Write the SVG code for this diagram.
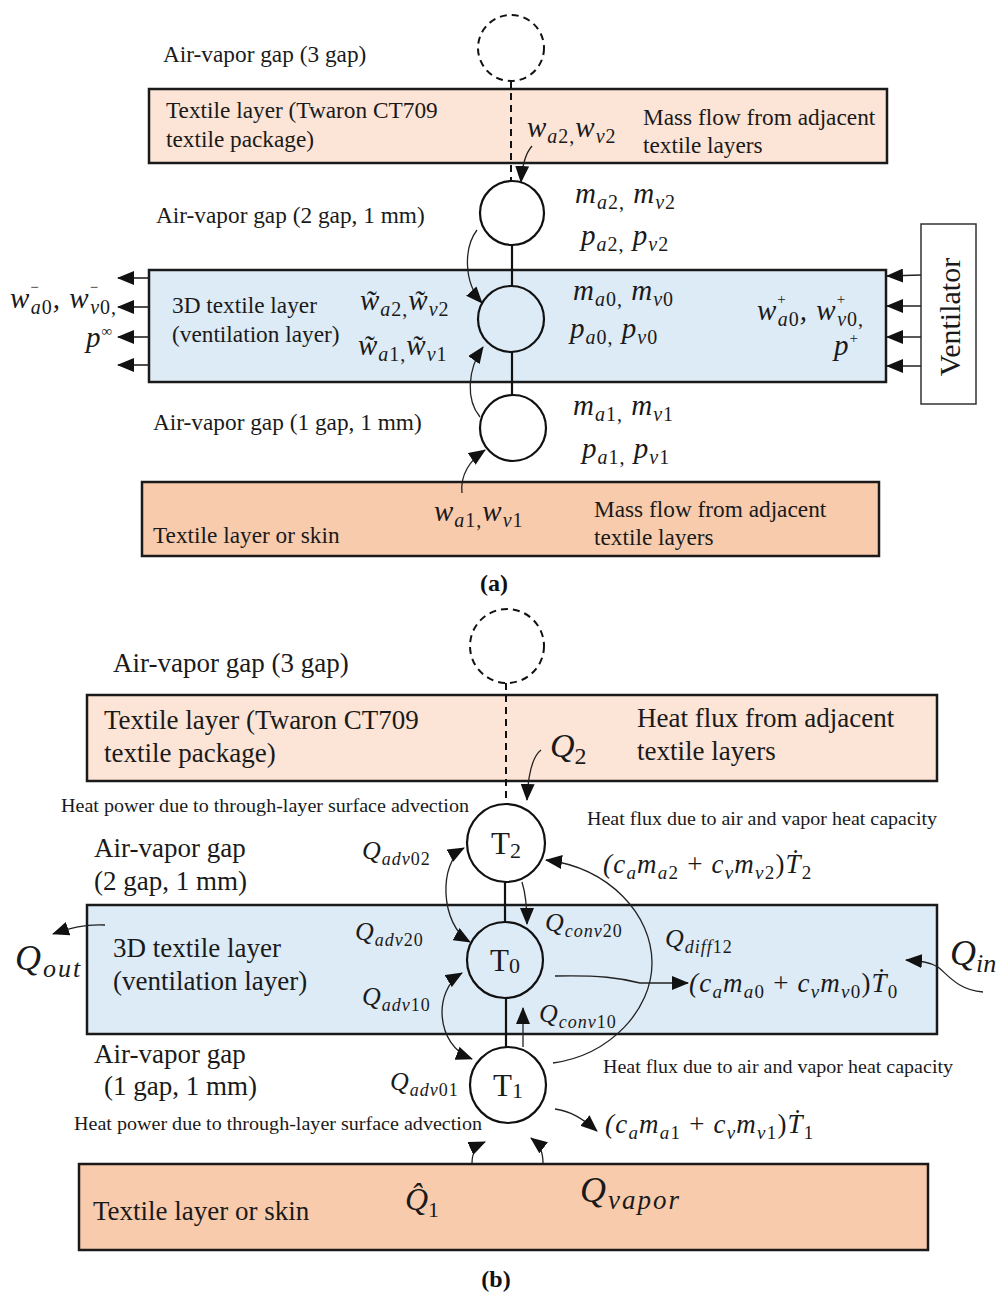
<svg xmlns="http://www.w3.org/2000/svg" width="1000" height="1296" viewBox="0 0 1000 1296">
<style>
.lt{fill:#fce4d6;stroke:#1a1a1a;stroke-width:2.5}
.dk{fill:#f8cbad;stroke:#1a1a1a;stroke-width:2.5}
.bl{fill:#ddebf7;stroke:#1a1a1a;stroke-width:2.5}
.nd{fill:none;stroke:#111;stroke-width:2.2}
.dash{fill:none;stroke:#111;stroke-width:2;stroke-dasharray:7 5}
.ln{fill:none;stroke:#111;stroke-width:2.2}
.ar{fill:none;stroke:#222;stroke-width:1.3;marker-end:url(#ah)}
.ar2{fill:none;stroke:#222;stroke-width:1.3;marker-start:url(#ah);marker-end:url(#ah)}
.st{fill:none;stroke:#222;stroke-width:1.6;marker-end:url(#ah)}
.t{font-family:"Liberation Serif",serif;fill:#1a1a1a}
.ta{font-size:23.3px}
.tb{font-size:27px}
.m{font-family:"Liberation Serif","DejaVu Serif",serif;font-style:italic;fill:#1a1a1a}
.ma{font-size:29px;letter-spacing:1px}
.mq{font-size:26px;letter-spacing:1px}
.mc{font-size:27px;letter-spacing:1.2px}
.u{font-style:normal}
.cap{font-family:"Liberation Serif",serif;font-weight:bold;font-size:24px;fill:#111;text-anchor:middle}
</style>
<defs>
<marker id="ah" markerUnits="userSpaceOnUse" markerWidth="18" markerHeight="14" refX="16" refY="7" orient="auto-start-reverse" viewBox="0 0 18 14"><path d="M0,0 L17,7 L0,14 z" fill="#111"/></marker>
</defs>
<rect width="1000" height="1296" fill="#fff"/>

<!-- ===== Part (a) ===== -->
<g id="a-gap3">
<circle class="dash" cx="511" cy="48" r="33"/>
<text class="t ta" x="163" y="62">Air-vapor gap (3 gap)</text>
</g>
<g id="a-textile-top">
<rect class="lt" x="149" y="89" width="738" height="74"/>
<text class="t ta" x="166" y="118">Textile layer (Twaron CT709</text>
<text class="t ta" x="166" y="147">textile package)</text>
<text class="t ta" x="643" y="125">Mass flow from adjacent</text>
<text class="t ta" x="643" y="153">textile layers</text>
<text class="m ma" x="527" y="137">w<tspan font-size="20" dy="6">a</tspan><tspan font-size="20" class="u">2,</tspan><tspan dy="-6">w</tspan><tspan font-size="20" dy="6">v</tspan><tspan font-size="20" class="u">2</tspan></text>
</g>
<g id="a-gap2">
<circle class="nd" cx="512" cy="213" r="32"/>
<text class="t ta" x="156" y="223">Air-vapor gap (2 gap, 1 mm)</text>
<text class="m ma" x="575" y="203">m<tspan font-size="20" dy="6">a</tspan><tspan font-size="20" class="u">2,</tspan><tspan dy="-6"> m</tspan><tspan font-size="20" dy="6">v</tspan><tspan font-size="20" class="u">2</tspan></text>
<text class="m ma" x="581" y="245">p<tspan font-size="20" dy="6">a</tspan><tspan font-size="20" class="u">2,</tspan><tspan dy="-6"> p</tspan><tspan font-size="20" dy="6">v</tspan><tspan font-size="20" class="u">2</tspan></text>
</g>
<g id="a-ventilation">
<rect class="bl" x="149" y="270" width="737" height="112"/>
<circle class="nd" cx="511" cy="319" r="33"/>
<text class="t ta" x="172" y="313">3D textile layer</text>
<text class="t ta" x="172" y="342">(ventilation layer)</text>
<text class="m ma" x="360" y="310">w&#x303;<tspan font-size="20" dy="6">a</tspan><tspan font-size="20" class="u">2,</tspan><tspan dy="-6">w&#x303;</tspan><tspan font-size="20" dy="6">v</tspan><tspan font-size="20" class="u">2</tspan></text>
<text class="m ma" x="358" y="355">w&#x303;<tspan font-size="20" dy="6">a</tspan><tspan font-size="20" class="u">1,</tspan><tspan dy="-6">w&#x303;</tspan><tspan font-size="20" dy="6">v</tspan><tspan font-size="20" class="u">1</tspan></text>
<text class="m ma" x="573" y="300">m<tspan font-size="20" dy="6">a</tspan><tspan font-size="20" class="u">0,</tspan><tspan dy="-6"> m</tspan><tspan font-size="20" dy="6">v</tspan><tspan font-size="20" class="u">0</tspan></text>
<text class="m ma" x="570" y="338">p<tspan font-size="20" dy="6">a</tspan><tspan font-size="20" class="u">0,</tspan><tspan dy="-6">  p</tspan><tspan font-size="20" dy="6">v</tspan><tspan font-size="20" class="u">0</tspan></text>
<text class="m ma" x="757" y="320">w<tspan font-size="15" class="u" dy="-16">+</tspan><tspan font-size="20" dx="-9" dy="22">a</tspan><tspan font-size="20" class="u">0</tspan><tspan dy="-6">, w</tspan><tspan font-size="15" class="u" dy="-16">+</tspan><tspan font-size="20" dx="-9" dy="22">v</tspan><tspan font-size="20" class="u">0,</tspan></text>
<text class="m ma" x="834" y="355">p<tspan font-size="15" class="u" dy="-12">+</tspan></text>
</g>
<g id="a-outflow">
<text class="m ma" x="10" y="308">w<tspan font-size="15" class="u" dy="-16">−</tspan><tspan font-size="20" dx="-9" dy="22">a</tspan><tspan font-size="20" class="u">0</tspan><tspan dy="-6">, w</tspan><tspan font-size="15" class="u" dy="-16">−</tspan><tspan font-size="20" dx="-9" dy="22">v</tspan><tspan font-size="20" class="u">0,</tspan></text>
<text class="m ma" x="86" y="347">p<tspan font-size="15" class="u" dy="-11">∞</tspan></text>
</g>
<g id="a-ventilator">
<rect x="921" y="224" width="55" height="180" fill="#fff" stroke="#333" stroke-width="1.5"/>
<text class="t" font-size="30" text-anchor="middle" transform="translate(960,317) rotate(-90)">Ventilator</text>
</g>
<g id="a-gap1">
<circle class="nd" cx="513" cy="428" r="33"/>
<text class="t ta" x="153" y="430">Air-vapor gap (1 gap, 1 mm)</text>
<text class="m ma" x="573" y="415">m<tspan font-size="20" dy="6">a</tspan><tspan font-size="20" class="u">1,</tspan><tspan dy="-6"> m</tspan><tspan font-size="20" dy="6">v</tspan><tspan font-size="20" class="u">1</tspan></text>
<text class="m ma" x="582" y="458">p<tspan font-size="20" dy="6">a</tspan><tspan font-size="20" class="u">1,</tspan><tspan dy="-6"> p</tspan><tspan font-size="20" dy="6">v</tspan><tspan font-size="20" class="u">1</tspan></text>
</g>
<g id="a-textile-bottom">
<rect class="dk" x="142" y="482" width="737" height="74"/>
<text class="t ta" x="153" y="543">Textile layer or skin</text>
<text class="t ta" x="594" y="517">Mass flow from adjacent</text>
<text class="t ta" x="594" y="545">textile layers</text>
<text class="m ma" x="434" y="521">w<tspan font-size="20" dy="6">a</tspan><tspan font-size="20" class="u">1,</tspan><tspan dy="-6">w</tspan><tspan font-size="20" dy="6">v</tspan><tspan font-size="20" class="u">1</tspan></text>
</g>
<text class="cap" x="494" y="591">(a)</text>

<!-- ===== Part (b) ===== -->
<g id="b-gap3">
<circle class="dash" cx="507" cy="646" r="37"/>
<text class="t tb" x="113" y="672">Air-vapor gap (3 gap)</text>
</g>
<g id="b-textile-top">
<rect class="lt" x="87" y="695" width="850" height="86"/>
<text class="t tb" x="104" y="729">Textile layer (Twaron CT709</text>
<text class="t tb" x="104" y="762">textile package)</text>
<text class="t tb" x="637" y="727">Heat flux from adjacent</text>
<text class="t tb" x="637" y="760">textile layers</text>
<text class="m" x="550" y="757" font-size="34">Q<tspan font-size="24" class="u" dy="7">2</tspan></text>
</g>
<g id="b-T2">
<circle class="nd" cx="506" cy="843" r="39"/>
<text class="t" x="506" y="854" font-size="31" text-anchor="middle">T<tspan font-size="22" dy="4">2</tspan></text>
<text class="t" x="61" y="812" font-size="18" textLength="408" lengthAdjust="spacingAndGlyphs">Heat power due to through-layer surface advection</text>
<text class="t" x="587" y="825" font-size="18" textLength="350" lengthAdjust="spacingAndGlyphs">Heat flux due to air and vapor heat capacity</text>
<text class="t tb" x="94" y="857">Air-vapor gap</text>
<text class="t tb" x="94" y="890">(2 gap, 1 mm)</text>
<text class="m mq" x="362" y="859">Q<tspan font-size="18" dy="6">adv</tspan><tspan font-size="18" class="u">02</tspan></text>
<text class="m mc" x="603" y="873">(c<tspan font-size="19" dy="6">a</tspan><tspan dy="-6">m</tspan><tspan font-size="19" dy="6">a</tspan><tspan font-size="19" class="u">2</tspan><tspan class="u" dy="-6"> + </tspan>c<tspan font-size="19" dy="6">v</tspan><tspan dy="-6">m</tspan><tspan font-size="19" dy="6">v</tspan><tspan font-size="19" class="u">2</tspan><tspan class="u" dy="-6">)</tspan>T&#x307;<tspan font-size="19" class="u" dy="6">2</tspan></text>
</g>
<g id="b-ventilation">
<rect class="bl" x="87" y="905" width="850" height="129"/>
<circle class="nd" cx="505" cy="960" r="38"/>
<text class="t" x="505" y="971" font-size="31" text-anchor="middle">T<tspan font-size="22" dy="2">0</tspan></text>
<text class="t tb" x="113" y="957">3D textile layer</text>
<text class="t tb" x="113" y="990">(ventilation layer)</text>
<text class="m mq" x="355" y="940">Q<tspan font-size="18" dy="6">adv</tspan><tspan font-size="18" class="u">20</tspan></text>
<text class="m mq" x="362" y="1005">Q<tspan font-size="18" dy="6">adv</tspan><tspan font-size="18" class="u">10</tspan></text>
<text class="m mq" x="545" y="931">Q<tspan font-size="18" dy="6">conv</tspan><tspan font-size="18" class="u">20</tspan></text>
<text class="m mq" x="539" y="1022">Q<tspan font-size="18" dy="6">conv</tspan><tspan font-size="18" class="u">10</tspan></text>
<text class="m mq" x="665" y="947">Q<tspan font-size="18" dy="6">diff</tspan><tspan font-size="18" class="u">12</tspan></text>
<text class="m mc" x="689" y="992">(c<tspan font-size="19" dy="6">a</tspan><tspan dy="-6">m</tspan><tspan font-size="19" dy="6">a</tspan><tspan font-size="19" class="u">0</tspan><tspan class="u" dy="-6"> + </tspan>c<tspan font-size="19" dy="6">v</tspan><tspan dy="-6">m</tspan><tspan font-size="19" dy="6">v</tspan><tspan font-size="19" class="u">0</tspan><tspan class="u" dy="-6">)</tspan>T&#x307;<tspan font-size="19" class="u" dy="6">0</tspan></text>
</g>
<g id="b-Qout">
<text class="m" x="15" y="970" font-size="36" letter-spacing="2">Q<tspan font-size="26" dy="7">out</tspan></text>
</g>
<g id="b-Qin">
<text class="m" x="950" y="965" font-size="36">Q<tspan font-size="26" dy="7">in</tspan></text>
</g>
<g id="b-T1">
<circle class="nd" cx="508" cy="1085" r="38"/>
<text class="t" x="508" y="1096" font-size="31" text-anchor="middle">T<tspan font-size="22" dy="2">1</tspan></text>
<text class="t tb" x="94" y="1063">Air-vapor gap</text>
<text class="t tb" x="104" y="1095">(1 gap, 1 mm)</text>
<text class="m mq" x="390" y="1090">Q<tspan font-size="18" dy="6">adv</tspan><tspan font-size="18" class="u">01</tspan></text>
<text class="t" x="74" y="1130" font-size="18" textLength="408" lengthAdjust="spacingAndGlyphs">Heat power due to through-layer surface advection</text>
<text class="t" x="603" y="1073" font-size="18" textLength="350" lengthAdjust="spacingAndGlyphs">Heat flux due to air and vapor heat capacity</text>
<text class="m mc" x="605" y="1133">(c<tspan font-size="19" dy="6">a</tspan><tspan dy="-6">m</tspan><tspan font-size="19" dy="6">a</tspan><tspan font-size="19" class="u">1</tspan><tspan class="u" dy="-6"> + </tspan>c<tspan font-size="19" dy="6">v</tspan><tspan dy="-6">m</tspan><tspan font-size="19" dy="6">v</tspan><tspan font-size="19" class="u">1</tspan><tspan class="u" dy="-6">)</tspan>T&#x307;<tspan font-size="19" class="u" dy="6">1</tspan></text>
</g>
<g id="b-textile-bottom">
<rect class="dk" x="79" y="1164" width="849" height="86"/>
<text class="t tb" x="93" y="1220">Textile layer or skin</text>
<text class="m" x="405" y="1210" font-size="32">Q&#x302;<tspan font-size="22" class="u" dy="7">1</tspan></text>
<text class="m" x="580" y="1202" font-size="36" letter-spacing="2">Q<tspan font-size="27" dy="7">vapor</tspan></text>
</g>
<text class="cap" x="496" y="1287">(b)</text>

<!-- ===== Connectors ===== -->
<g id="connectors">
<!-- (a) -->
<line class="dash" x1="511" y1="81" x2="511" y2="181"/>
<line class="ln" x1="512" y1="245" x2="512" y2="286"/>
<line class="ln" x1="512" y1="352" x2="512" y2="395"/>
<path class="ar" d="M532,146 C524,155 522,168 521,182"/>
<path class="ar" d="M477,230 C464,247 463,282 482,303"/>
<path class="ar" d="M480,417 C466,400 467,370 483,347"/>
<path class="ar" d="M462,493 C460,475 470,460 485,450"/>
<line class="st" x1="149" y1="278" x2="118" y2="278"/>
<line class="st" x1="149" y1="307" x2="118" y2="307"/>
<line class="st" x1="149" y1="337" x2="118" y2="337"/>
<line class="st" x1="149" y1="365" x2="118" y2="365"/>
<line class="st" x1="921" y1="275" x2="887" y2="276"/>
<line class="st" x1="921" y1="306" x2="887" y2="306"/>
<line class="st" x1="921" y1="337" x2="887" y2="337"/>
<line class="st" x1="921" y1="366" x2="887" y2="366"/>
<!-- (b) -->
<line class="dash" x1="506" y1="683" x2="506" y2="804"/>
<line class="ln" x1="505" y1="882" x2="505" y2="922"/>
<line class="ln" x1="506" y1="998" x2="506" y2="1047"/>
<path class="ar" d="M541,750 C532,757 528,775 527,800"/>
<path class="ar" d="M105,925 C85,924 70,928 53,934"/>
<path class="ar" d="M983,992 C958,990 948,975 938,967 C930,962 920,961 906,960"/>
<path class="ar" d="M555,976 C600,975 620,978 640,983 L688,983"/>
<path class="ar" d="M553,1063 C610,1055 652,1010 652,963 C652,915 610,868 546,860"/>
<path class="ar" d="M522,882 C526,895 527,905 527,924"/>
<path class="ar" d="M523,1047 L523,1008"/>
<path class="ar2" d="M464,848 C438,862 440,925 470,942"/>
<path class="ar2" d="M462,973 C433,990 435,1045 472,1059"/>
<path class="ar" d="M555,1109 C570,1111 582,1118 597,1131"/>
<path class="ar" d="M472,1163 C472,1152 476,1146 485,1142"/>
<path class="ar" d="M543,1163 C543,1152 540,1145 531,1138"/>
</g>
</svg>
